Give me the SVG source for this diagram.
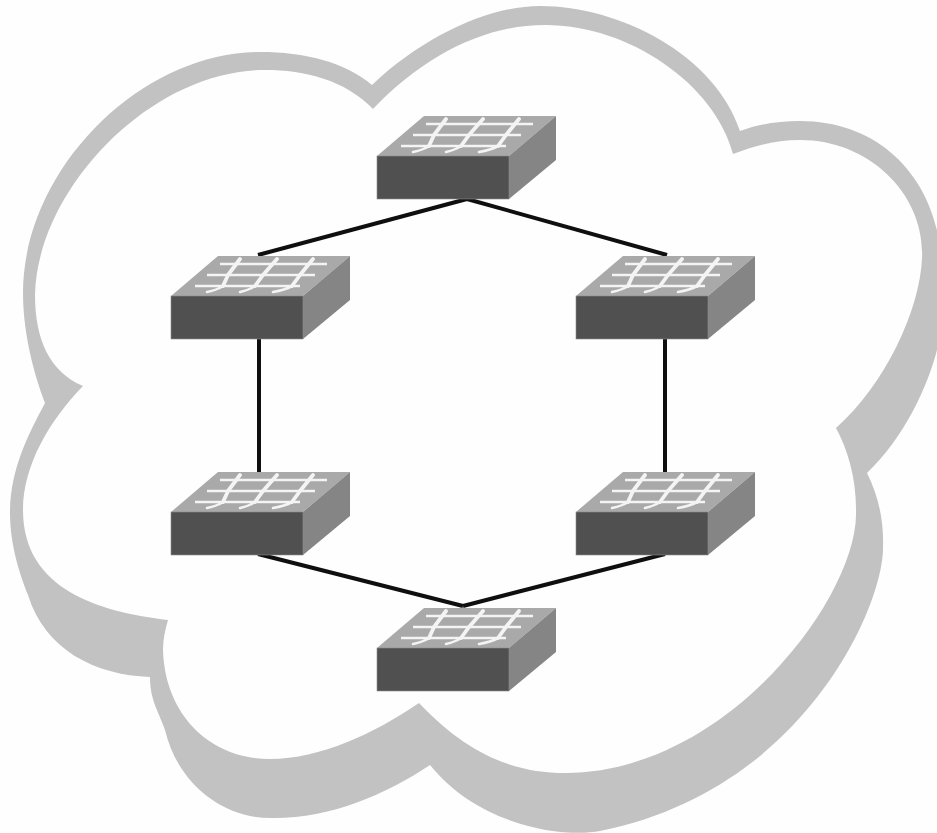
<svg xmlns="http://www.w3.org/2000/svg" width="937" height="833" viewBox="0 0 937 833">
<style>
.shadow{fill:#c2c2c2}
.cloud{fill:#fefefe}
.top{fill:#a9a9a9}
.front{fill:#505050;stroke:#8c8c8c;stroke-width:.6}
.side{fill:#858585}
.h{fill:none;stroke:#f4f4f4;stroke-width:2.6}
.v{fill:none;stroke:#f4f4f4;stroke-width:3.8;stroke-linecap:round;stroke-linejoin:round}
.t{fill:none;stroke:#f4f4f4;stroke-width:2.6;stroke-linecap:round}
.link{stroke:#0f0f0f;stroke-width:4;fill:none}
</style>
<defs>
<filter id="soft" x="-5%" y="-5%" width="110%" height="110%"><feGaussianBlur stdDeviation="0.5"/></filter>
<g id="switch">
<polygon class="top" points="0,0 47,-40 179,-40 132,0"/>
<polygon class="side" points="132,0 179,-40 179,4 132,43"/>
<rect class="front" x="0" y="0" width="132" height="43"/>
<g filter="url(#soft)">
<path class="h" d="M49 -32H156M36 -21H144M24 -10H129"/>
<path class="v" d="M69 -37L57 -21L52 -10"/>
<path class="v" d="M106 -37L92 -21L84 -10"/>
<path class="v" d="M142 -37L129 -21L121 -10"/>
<path class="t" d="M52 -10Q46 -6 36 -4M84 -10Q78 -6 69 -4M121 -10Q114 -6 102 -4"/>
</g>
</g>
</defs>
<rect width="937" height="833" fill="#fefefe"/>
<g id="cloud">
<path class="shadow" d="M372 85C425 35 490 6 540 6C620 6 715 55 740 131C760 124 778 121 800 121C875 121 925 170 938 235C952 280 950 320 937 350C928 385 905 437 867 473C878 495 884 520 883 547C884 605 805 790 600 831C565 838 480 827 430 765C385 795 330 818 275 818C225 820 178 785 165 730C158 710 150 700 150 677C95 675 45 650 28 595C20 575 10 545 10 513C10 470 28 435 45 403C38 385 23 340 23 293C23 170 140 52 260 52C305 52 345 62 372 85Z"/>
<path class="cloud" d="M373 109C425 55 485 25 545 25C630 25 715 85 733 154C755 146 775 140 800 140C870 140 925 195 922 258C920 310 885 385 836 428C848 450 857 480 856 515C855 600 725 773 565 773C515 773 468 755 419 703C375 733 320 759 270 759C210 759 165 715 163 650C163 640 165 630 168 620C100 612 23 590 23 510C23 465 50 420 83 386C50 372 35 340 35 295C37 190 150 70 265 70C305 70 345 80 373 109Z"/>
</g>
<g id="connectors">
<line class="link" x1="467" y1="199" x2="258" y2="255"/>
<line class="link" x1="467" y1="199" x2="667" y2="255"/>
<line class="link" x1="259" y1="339" x2="259" y2="472"/>
<line class="link" x1="665" y1="339" x2="665" y2="472"/>
<line class="link" x1="258" y1="554" x2="463" y2="606"/>
<line class="link" x1="665" y1="554" x2="463" y2="606"/>
</g>
<g id="switch-top"><use href="#switch" x="377" y="156"/></g>
<g id="switch-upper-left"><use href="#switch" x="171" y="296"/></g>
<g id="switch-upper-right"><use href="#switch" x="576" y="296"/></g>
<g id="switch-lower-left"><use href="#switch" x="171" y="512"/></g>
<g id="switch-lower-right"><use href="#switch" x="576" y="512"/></g>
<g id="switch-bottom"><use href="#switch" x="377" y="648"/></g>
</svg>
